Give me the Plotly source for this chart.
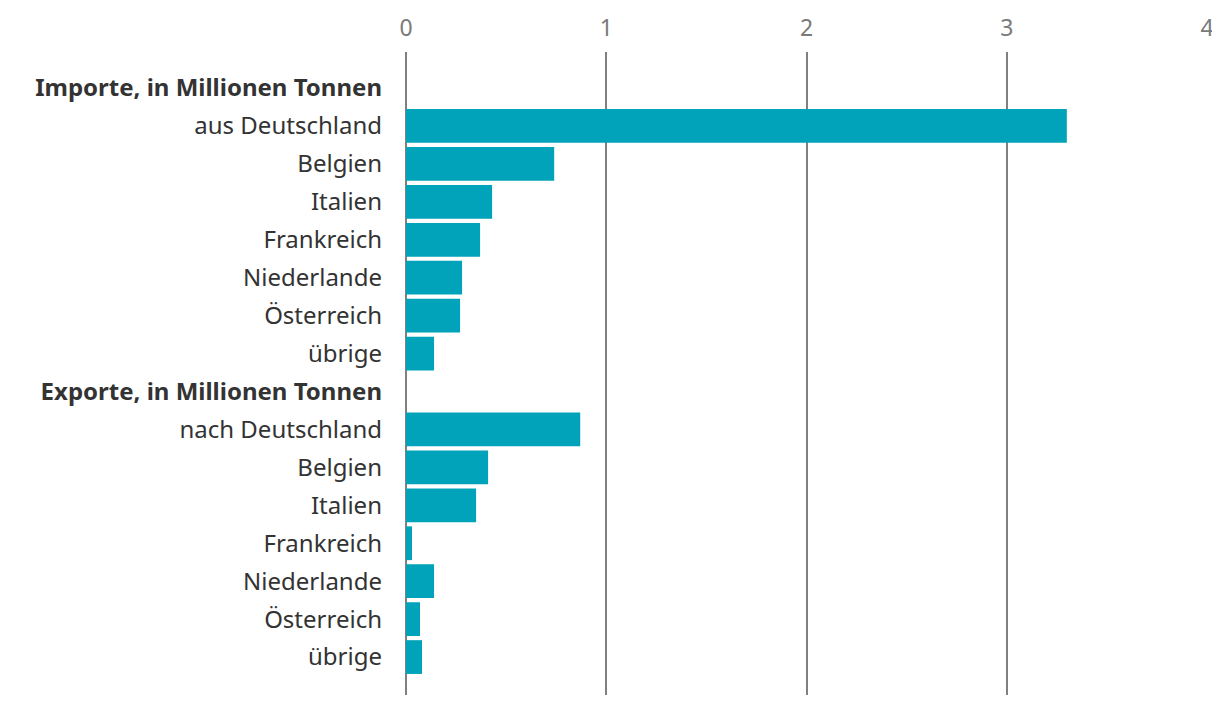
import plotly.graph_objects as go

labels = [
    "<b>Importe, in Millionen Tonnen</b>",
    "aus Deutschland", "Belgien", "Italien", "Frankreich", "Niederlande", "Österreich", "übrige",
    "<b>Exporte, in Millionen Tonnen</b>",
    "nach Deutschland", "Belgien", "Italien", "Frankreich", "Niederlande", "Österreich", "übrige",
]
values = [
    None, 3.30, 0.74, 0.43, 0.37, 0.28, 0.27, 0.14,
    None, 0.87, 0.41, 0.35, 0.03, 0.14, 0.07, 0.08,
]
x_ticks = [0, 1, 2, 3, 4]

positions = list(range(len(labels)))

fig = go.Figure(go.Bar(
    x=values, y=positions, orientation="h",
    marker=dict(color="#00A3B9", line=dict(width=0)),
    width=0.89,
    hoverinfo="skip",
))

fig.update_layout(
    width=1220, height=706,
    margin=dict(l=398, r=21, t=44, b=19),
    paper_bgcolor="white", plot_bgcolor="white",
    font=dict(family="Noto Sans", size=24, color="#333333"),
    showlegend=False,
    bargap=0.1,
)
fig.update_xaxes(
    side="top", range=[0, 4], tickvals=x_ticks,
    showgrid=True, gridcolor="#808080", gridwidth=2,
    zeroline=True, zerolinecolor="#808080", zerolinewidth=2,
    showline=False, ticks="", ticklabelstandoff=10,
    tickfont=dict(size=23, color="#7a7a7a"),
    automargin=False, fixedrange=True,
)
fig.update_yaxes(
    range=[16.0, -0.95], tickvals=positions, ticktext=labels,
    showgrid=False, zeroline=False, showline=False,
    ticks="", ticklabelstandoff=23,
    tickfont=dict(size=24, color="#333333"),
    automargin=False, fixedrange=True,
)

fig.write_html("out.html")
